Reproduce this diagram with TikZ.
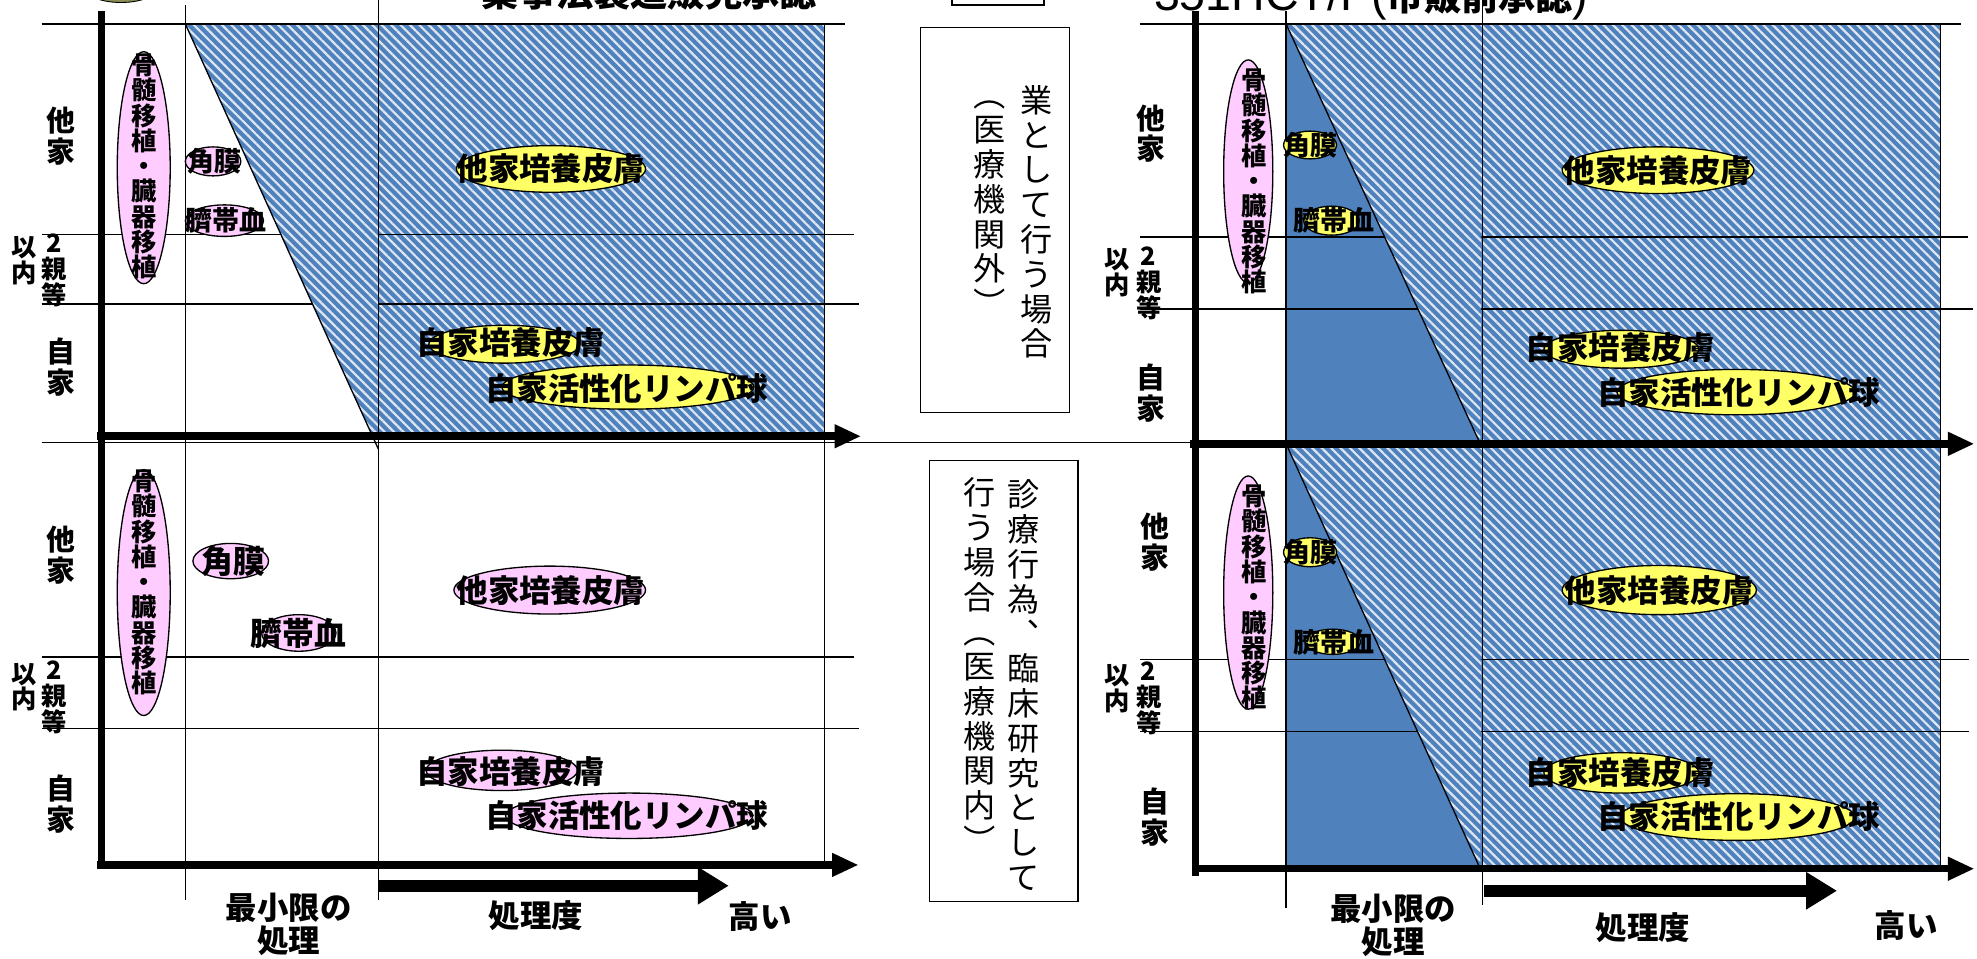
\documentclass[tikz,border=0pt]{standalone}
\usepackage{graphicx}
\usepackage{fontspec}
\newfontfamily\jp{Noto Sans CJK JP}
\newfontfamily\latinsans{Liberation Sans}
\usetikzlibrary{arrows.meta,patterns.meta}
\definecolor{cellblue}{HTML}{4F81BD}
\definecolor{ovalpink}{HTML}{FFCCFF}
\definecolor{ovalyellow}{HTML}{FFFF66}
\definecolor{legendoval}{HTML}{8C8C55}
\newcommand{\vopen}{\raisebox{0.88em}[0.88em][0.12em]{\rotatebox{-90}{（}}}
\newcommand{\vclose}{\raisebox{0.88em}[0.88em][0.12em]{\rotatebox{-90}{）}}}

\begin{document}
\begin{tikzpicture}[x=0.02cm, y=-0.02cm,
	gridrule/.style={line width=0.6pt},
	axisbar/.style={line width=3.4pt},
	axisarrow/.style={line width=3.4pt, -{Triangle[length=12pt,width=10pt]}},
	bigarrow/.style={line width=5.2pt, -{Triangle[length=14pt,width=16pt]}},
	solidcell/.style={fill=cellblue},
	hatchcell/.style={preaction={fill=cellblue}, pattern={Lines[angle=-45,distance=3pt,line width=1pt]}, pattern color=white!80!cellblue},
	pinkoval/.style={draw, fill=ovalpink, line width=0.6pt},
	yellowoval/.style={draw, fill=ovalyellow, line width=0.6pt},
	casebox/.style={draw, fill=white, line width=0.6pt},
	celltag/.style={inner sep=0pt, font=\jp\bfseries\fontsize{14.2pt}{15pt}\selectfont},
	midtag/.style={inner sep=0pt, font=\jp\bfseries\fontsize{14.4pt}{14.4pt}\selectfont},
	smalltag/.style={inner sep=0pt, font=\jp\bfseries\fontsize{12.2pt}{12.2pt}\selectfont},
	graftstack/.style={inner sep=0pt, align=center, font=\jp\bfseries\fontsize{11.4pt}{11.4pt}\selectfont},
	rowtag/.style={inner sep=0pt, align=center, font=\jp\bfseries\fontsize{13pt}{13.9pt}\selectfont},
	kintag/.style={inner sep=0pt, align=center, font=\jp\bfseries\fontsize{11.4pt}{11.7pt}\selectfont},
	boxtext/.style={inner sep=0pt, align=center, font=\jp\fontsize{14.5pt}{15.7pt}\selectfont},
	titletag/.style={inner sep=0pt, font=\jp\bfseries\fontsize{16.8pt}{16.8pt}\selectfont}]
	\useasboundingbox (0,0) rectangle (1568,760.6);

	\fill[solidcell] (1020,19) rectangle (1176,352);
	\fill[solidcell] (1020,352) rectangle (1176,689);
	\fill[hatchcell] (300,19) rectangle (654,346);
	\fill[hatchcell] (1176,19) rectangle (1539,352);
	\fill[hatchcell] (1176,352) rectangle (1539,689);

	\foreach \y/\xe in {186/677, 241/681, 521/677, 578/681}
	\draw[gridrule] (33,\y) -- (\xe,\y);
	\foreach \y/\xe in {188/1561, 245/1565, 523/1562, 580/1562}
	\draw[gridrule] (904,\y) -- (\xe,\y);

	\fill[hatchcell] (147,19) -- (300,19) -- (300,346) -- (295.5,346) -- cycle;
	\fill[hatchcell] (1020,19) -- (1176,19) -- (1174,352) -- cycle;
	\fill[hatchcell] (1020,352) -- (1176,352) -- (1174,689) -- cycle;

	\draw[gridrule] (147,19) -- (300,356);
	\draw[gridrule] (1020,19) -- (1174,352);
	\draw[gridrule] (1020,352) -- (1174,689);
	\draw[gridrule] (33,19) -- (670,19);
	\draw[gridrule] (904,19) -- (1555,19);
	\draw[gridrule] (33,351) -- (944,351);
	\draw[gridrule] (147,4) -- (147,714);
	\draw[gridrule] (300,0) -- (300,714);
	\draw[gridrule] (654,19) -- (654,686);
	\draw[gridrule] (1020,9) -- (1020,720);
	\draw[gridrule] (1176,0) -- (1176,718);
	\draw[gridrule] (1539,19) -- (1539,689);

	\draw[axisbar] (80.6,9) -- (80.6,688);
	\draw[axisbar] (948,9) -- (948,695);
	\draw[axisarrow] (77,346) -- (683,346);
	\draw[axisarrow] (77,686) -- (681,686);
	\draw[axisarrow] (944,352) -- (1566,352);
	\draw[axisarrow] (948,689) -- (1566,689);
	\draw[bigarrow] (300,702.5) -- (578,702.5);
	\draw[bigarrow] (1177,706.5) -- (1457,706.5);

	\draw[casebox] (755,-10) rectangle (828,4);
	\draw[casebox] (730,22) rectangle (848,327);
	\draw[casebox] (737,365) rectangle (855,715);
	\draw[draw, fill=legendoval] (96,-15) ellipse [x radius=34, y radius=17];

	\node[titletag, anchor=base] (lawtitle) at (515,5) {薬事法製造販売承認};
	\node[inner sep=0pt, anchor=base west] (hctptitle) at (915,8) {{\latinsans\fontsize{21pt}{21pt}\selectfont 351HCT/P(}{\jp\bfseries\fontsize{16.8pt}{16.8pt}\selectfont 市販前承認}{\latinsans\fontsize{21pt}{21pt}\selectfont )}};

	\node[boxtext] (outcase) at (822,176) {業\\と\\し\\て\\行\\う\\場\\合};
	\node[boxtext] (outnote) at (785,158) {\vopen\\医\\療\\機\\関\\外\\\vclose};
	\node[boxtext] (incase) at (812,543.5) {診\\療\\行\\為\\︑\\臨\\床\\研\\究\\と\\し\\て};
	\node[boxtext] (innote) at (777,529) {行\\う\\場\\合\\\vopen\\医\\療\\機\\関\\内\\\vclose};

	\node[rowtag] (ulother) at (48,108) {他\\家};
	\node[kintag] (ulwithin) at (19,207) {以\\内};
	\node[kintag] (ulkin) at (43,214.5) {2\\親\\等};
	\node[rowtag] (ulself) at (48,291) {自\\家};
	\draw[pinkoval] (114,133) ellipse [x radius=21, y radius=92];
	\node[graftstack] (ulgraft) at (114,132) {骨\\髄\\移\\植\\・\\臓\\器\\移\\植};
	\draw[pinkoval] (169,128) ellipse [x radius=22, y radius=11.5];
	\node[smalltag] (ulcornea) at (170,128) {角膜};
	\draw[pinkoval] (178,175) ellipse [x radius=31, y radius=12.5];
	\node[smalltag] (ulcord) at (179,175) {臍帯血};
	\draw[yellowoval] (437,134) ellipse [x radius=75, y radius=18.5];
	\node[celltag] (ulskin) at (437,134) {他家培養皮膚};
	\draw[yellowoval] (400,273) ellipse [x radius=60, y radius=15];
	\node[celltag] (ulownskin) at (405,272) {自家培養皮膚};
	\draw[yellowoval] (498,307) ellipse [x radius=100, y radius=17.5];
	\node[celltag] (ullymph) at (497,308) {自家活性化リンパ球};

	\node[rowtag] (llother) at (48,440) {他\\家};
	\node[kintag] (llwithin) at (19,545) {以\\内};
	\node[kintag] (llkin) at (43,553) {2\\親\\等};
	\node[rowtag] (llself) at (48,638) {自\\家};
	\draw[pinkoval] (114,470) ellipse [x radius=21, y radius=97.5];
	\node[graftstack] (llgraft) at (114,462) {骨\\髄\\移\\植\\・\\臓\\器\\移\\植};
	\draw[pinkoval] (183,445) ellipse [x radius=30, y radius=14];
	\node[midtag] (llcornea) at (185,445) {角膜};
	\draw[pinkoval] (237,502) ellipse [x radius=29.5, y radius=14.5];
	\node[midtag] (llcord) at (237,502) {臍帯血};
	\draw[pinkoval] (436,468) ellipse [x radius=76, y radius=19];
	\node[celltag] (llskin) at (437,468) {他家培養皮膚};
	\draw[pinkoval] (398,611) ellipse [x radius=60, y radius=16];
	\node[celltag] (llownskin) at (405,612) {自家培養皮膚};
	\draw[pinkoval] (499,647) ellipse [x radius=98, y radius=18];
	\node[celltag] (lllymph) at (497,647) {自家活性化リンパ球};

	\node[rowtag] (urother) at (913,106) {他\\家};
	\node[kintag] (urwithin) at (886,216) {以\\内};
	\node[kintag] (urkin) at (911,225) {2\\親\\等};
	\node[rowtag] (urself) at (913,312) {自\\家};
	\draw[pinkoval] (990,136) ellipse [x radius=19.5, y radius=88.5];
	\node[graftstack] (urgraft) at (995,144) {骨\\髄\\移\\植\\・\\臓\\器\\移\\植};
	\draw[yellowoval] (1039,115) ellipse [x radius=21, y radius=11];
	\node[smalltag] (urcornea) at (1039,115) {角膜};
	\draw[yellowoval] (1056,175) ellipse [x radius=22, y radius=11.5];
	\node[smalltag] (urcord) at (1058,175) {臍帯血};
	\draw[yellowoval] (1315,135) ellipse [x radius=76, y radius=18.5];
	\node[celltag] (urskin) at (1315,135) {他家培養皮膚};
	\draw[yellowoval] (1286,277) ellipse [x radius=61.5, y radius=15];
	\node[celltag] (urownskin) at (1285,276) {自家培養皮膚};
	\draw[yellowoval] (1377,311) ellipse [x radius=94.5, y radius=18];
	\node[celltag] (urlymph) at (1379,311) {自家活性化リンパ球};

	\node[rowtag] (lrother) at (916,430) {他\\家};
	\node[kintag] (lrwithin) at (886,546) {以\\内};
	\node[kintag] (lrkin) at (911,554) {2\\親\\等};
	\node[rowtag] (lrself) at (916,648) {自\\家};
	\draw[pinkoval] (990,470) ellipse [x radius=19.5, y radius=92.5];
	\node[graftstack] (lrgraft) at (995,474) {骨\\髄\\移\\植\\・\\臓\\器\\移\\植};
	\draw[yellowoval] (1039,438) ellipse [x radius=21, y radius=11.5];
	\node[smalltag] (lrcornea) at (1039,438) {角膜};
	\draw[yellowoval] (1057,509) ellipse [x radius=22, y radius=10];
	\node[smalltag] (lrcord) at (1058,509) {臍帯血};
	\draw[yellowoval] (1316,468) ellipse [x radius=77, y radius=19.5];
	\node[celltag] (lrskin) at (1316,468) {他家培養皮膚};
	\draw[yellowoval] (1286,613) ellipse [x radius=61.5, y radius=16];
	\node[celltag] (lrownskin) at (1285,613) {自家培養皮膚};
	\draw[yellowoval] (1378,648) ellipse [x radius=93, y radius=18.5];
	\node[celltag] (lrlymph) at (1379,648) {自家活性化リンパ球};

	\node[celltag, align=center] (llmin) at (229,733) {最小限の\\処理};
	\node[celltag] (lldegree) at (425,726) {処理度};
	\node[celltag] (llhigh) at (603,727) {高い};
	\node[celltag, align=center] (lrmin) at (1105,734) {最小限の\\処理};
	\node[celltag] (lrdegree) at (1303,736) {処理度};
	\node[celltag] (lrhigh) at (1512,734) {高い};
\end{tikzpicture}
\end{document}
